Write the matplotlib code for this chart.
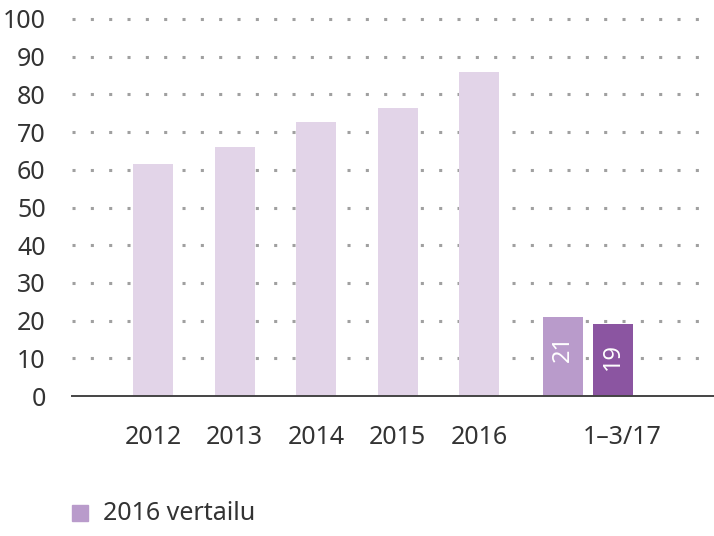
import numpy as np
import matplotlib.pyplot as plt

# data
years = ['2012', '2013', '2014', '2015', '2016']
year_values = [61.5, 66, 72.7, 76.5, 86]
q1_labels = ['21', '19']
q1_values = [21, 19]
q1_tick = '1\u20133/17'
legend_label = '2016 vertailu'
yticks = list(range(0, 101, 10))

light = '#e2d4e8'
mid = '#b99bcb'
dark = '#8b55a1'
text_col = '#333333'

plt.rcParams['font.family'] = ['Noto Sans', 'DejaVu Sans']

fig = plt.figure(figsize=(7.14, 5.36), dpi=100)
ax = fig.add_axes([0.101, 0.261, 0.887, 0.7036])

x_years = np.arange(len(years))
x_q1 = np.array([5.02, 5.64])
width = 0.49

ax.bar(x_years, year_values, width=width, color=light, zorder=2)
bars = ax.bar(x_q1, q1_values, width=width, color=[mid, dark], zorder=2)
for b, lab in zip(bars, q1_labels):
    ax.text(b.get_x() + b.get_width() / 2, b.get_height() - 4.8, lab,
            rotation=90, ha='center', va='top', color='white', fontsize=17,
            zorder=3)

ax.set_xlim(-0.99, 6.77)
ax.set_ylim(0, 100)
for y in yticks[1:]:
    ax.axhline(y, xmin=0, xmax=0.99, color='#a0a0a0', linestyle=(0, (1, 5)),
               linewidth=2.2, zorder=1, clip_on=False)
ax.axhline(0, xmin=0, xmax=1.015, color='#444444', linewidth=1.4, zorder=3,
           clip_on=False)

ax.set_yticks(yticks)
ax.set_yticklabels([str(v) for v in yticks], fontsize=18, color=text_col)
ax.set_xticks(list(x_years) + [5.75])
ax.set_xticklabels(years + [q1_tick], fontsize=18, color=text_col)
ax.tick_params(axis='y', length=0, pad=19)
ax.tick_params(axis='x', length=0, pad=21)
for s in ax.spines.values():
    s.set_visible(False)

# legend
fig.patches.append(plt.Rectangle((72 / 714, 1 - 521 / 536), 16 / 714, 16 / 536,
                                 transform=fig.transFigure, color=mid))
fig.text(103 / 714, 1 - 513 / 536, legend_label, fontsize=18, color=text_col,
         va='center', ha='left')

fig.savefig('out.png', dpi=100)
